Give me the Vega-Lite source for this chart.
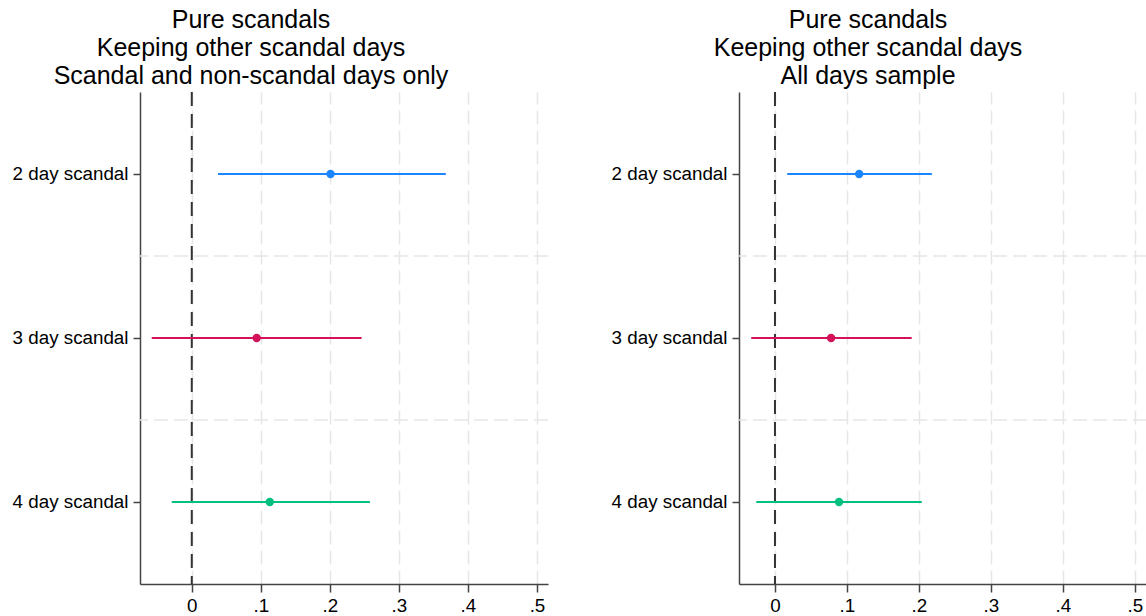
{
  "$schema": "https://vega.github.io/schema/vega-lite/v6.json",
  "padding": {"left": 12, "top": 8, "right": 0, "bottom": 0},
  "background": "white",
  "config": {
    "font": "Liberation Sans",
    "view": {"stroke": null},
    "concat": {"spacing": 62},
    "title": {"fontSize": 25, "fontWeight": "normal", "lineHeight": 28, "color": "black", "anchor": "middle", "offset": 2, "font": "Liberation Sans"},
    "axis": {"labelFont": "Liberation Sans", "labelFontSize": 18.8, "labelColor": "black", "domainColor": "#444444", "tickColor": "#444444", "domainWidth": 1.5, "tickWidth": 1.5}
  },
  "datasets": {
    "est": [
      {"panel": "A", "label": "2 day scandal", "est": 0.201, "lo": 0.038, "hi": 0.368},
      {"panel": "A", "label": "3 day scandal", "est": 0.094, "lo": -0.058, "hi": 0.246},
      {"panel": "A", "label": "4 day scandal", "est": 0.113, "lo": -0.029, "hi": 0.258},
      {"panel": "B", "label": "2 day scandal", "est": 0.117, "lo": 0.017, "hi": 0.218},
      {"panel": "B", "label": "3 day scandal", "est": 0.078, "lo": -0.033, "hi": 0.190},
      {"panel": "B", "label": "4 day scandal", "est": 0.089, "lo": -0.026, "hi": 0.204}
    ],
    "hgrid": [
      {"label": "3 day scandal"},
      {"label": "4 day scandal"}
    ],
    "zero": [{"z": 0}]
  },
  "hconcat": [
    {
      "width": 408,
      "height": 492,
      "title": {"text": ["Pure scandals", "Keeping other scandal days", "Scandal and non-scandal days only"], "dx": -93},
      "layer": [
        {
          "data": {"name": "hgrid"},
          "mark": {"type": "rule", "color": "#e6e6e6", "strokeWidth": 1.5, "strokeDash": [14, 6]},
          "encoding": {
            "y": {"field": "label", "type": "nominal", "bandPosition": 0, "sort": null,
              "scale": {"domain": ["2 day scandal", "3 day scandal", "4 day scandal"], "paddingInner": 0, "paddingOuter": 0},
              "axis": {"title": null, "tickSize": 7, "labelPadding": 5, "grid": false}}
          }
        },
        {
          "data": {"name": "zero"},
          "mark": {"type": "rule", "color": "#333333", "strokeWidth": 2, "strokeDash": [14, 8]},
          "encoding": {
            "x": {"field": "z", "type": "quantitative",
              "scale": {"domain": [-0.075, 0.516], "nice": false, "zero": false},
              "axis": {"title": null, "values": [0, 0.1, 0.2, 0.3, 0.4, 0.5], "labelExpr": "datum.value == 0 ? '0' : replace(format(datum.value, '.1f'), '0.', '.')", "grid": true, "gridColor": "#e6e6e6", "gridWidth": 1.5, "gridDash": [14, 6], "tickSize": 8, "labelPadding": 4}}
          }
        },
        {
          "data": {"name": "est"},
          "transform": [{"filter": "datum.panel == 'A'"}],
          "mark": {"type": "rule", "strokeWidth": 2.2},
          "encoding": {
            "x": {"field": "lo", "type": "quantitative", "title": null},
            "x2": {"field": "hi"},
            "y": {"field": "label", "type": "nominal", "sort": null, "title": null},
            "color": {"field": "label", "type": "nominal", "legend": null,
              "scale": {"domain": ["2 day scandal", "3 day scandal", "4 day scandal"], "range": ["#1a85ff", "#d41159", "#00bf7f"]}}
          }
        },
        {
          "data": {"name": "est"},
          "transform": [{"filter": "datum.panel == 'A'"}],
          "mark": {"type": "circle", "size": 70, "opacity": 1},
          "encoding": {
            "x": {"field": "est", "type": "quantitative", "title": null},
            "y": {"field": "label", "type": "nominal", "sort": null, "title": null},
            "color": {"field": "label", "type": "nominal", "legend": null}
          }
        }
      ]
    },
    {
      "width": 408,
      "height": 492,
      "title": {"text": ["Pure scandals", "Keeping other scandal days", "All days sample"], "dx": -75},
      "layer": [
        {
          "data": {"name": "hgrid"},
          "mark": {"type": "rule", "color": "#e6e6e6", "strokeWidth": 1.5, "strokeDash": [14, 6]},
          "encoding": {
            "y": {"field": "label", "type": "nominal", "bandPosition": 0, "sort": null,
              "scale": {"domain": ["2 day scandal", "3 day scandal", "4 day scandal"], "paddingInner": 0, "paddingOuter": 0},
              "axis": {"title": null, "tickSize": 7, "labelPadding": 5, "grid": false}}
          }
        },
        {
          "data": {"name": "zero"},
          "mark": {"type": "rule", "color": "#333333", "strokeWidth": 2, "strokeDash": [14, 8]},
          "encoding": {
            "x": {"field": "z", "type": "quantitative",
              "scale": {"domain": [-0.05, 0.517], "nice": false, "zero": false},
              "axis": {"title": null, "values": [0, 0.1, 0.2, 0.3, 0.4, 0.5], "labelExpr": "datum.value == 0 ? '0' : replace(format(datum.value, '.1f'), '0.', '.')", "grid": true, "gridColor": "#e6e6e6", "gridWidth": 1.5, "gridDash": [14, 6], "tickSize": 8, "labelPadding": 4}}
          }
        },
        {
          "data": {"name": "est"},
          "transform": [{"filter": "datum.panel == 'B'"}],
          "mark": {"type": "rule", "strokeWidth": 2.2},
          "encoding": {
            "x": {"field": "lo", "type": "quantitative", "title": null},
            "x2": {"field": "hi"},
            "y": {"field": "label", "type": "nominal", "sort": null, "title": null},
            "color": {"field": "label", "type": "nominal", "legend": null,
              "scale": {"domain": ["2 day scandal", "3 day scandal", "4 day scandal"], "range": ["#1a85ff", "#d41159", "#00bf7f"]}}
          }
        },
        {
          "data": {"name": "est"},
          "transform": [{"filter": "datum.panel == 'B'"}],
          "mark": {"type": "circle", "size": 70, "opacity": 1},
          "encoding": {
            "x": {"field": "est", "type": "quantitative", "title": null},
            "y": {"field": "label", "type": "nominal", "sort": null, "title": null},
            "color": {"field": "label", "type": "nominal", "legend": null}
          }
        }
      ]
    }
  ]
}
